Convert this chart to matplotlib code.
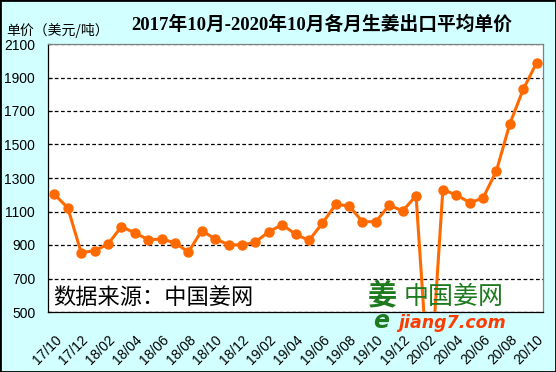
import matplotlib
matplotlib.use("Agg")
import matplotlib.pyplot as plt
from matplotlib.patches import Rectangle

months = ["17/10", "17/11", "17/12", "18/01", "18/02", "18/03", "18/04", "18/05", "18/06",
          "18/07", "18/08", "18/09", "18/10", "18/11", "18/12", "19/01", "19/02", "19/03",
          "19/04", "19/05", "19/06", "19/07", "19/08", "19/09", "19/10", "19/11", "19/12",
          "20/01", "20/02", "20/03", "20/04", "20/05", "20/06", "20/07", "20/08", "20/09", "20/10"]
prices = [1202, 1122, 854, 866, 905, 1009, 973, 932, 935, 914, 858, 985, 937, 902, 900, 917,
          979, 1021, 965, 927, 1029, 1142, 1134, 1039, 1039, 1138, 1103, 1194, 0, 1229, 1200,
          1153, 1180, 1343, 1623, 1829, 1988]
yticks = [500, 700, 900, 1100, 1300, 1500, 1700, 1900, 2100]

CJK = ['Noto Sans CJK SC', 'DejaVu Sans']
TITLE_FONT = ['Liberation Serif', 'Noto Sans CJK SC']
NUM_FONT = ['Liberation Sans', 'DejaVu Sans']

W, H = 556, 372
fig = plt.figure(figsize=(W / 100, H / 100), dpi=100, facecolor='#D2FFFF')
ax = fig.add_axes([47.7 / W, 1 - 312 / H, (543.3 - 47.7) / W, (312 - 44) / H])
ax.set_facecolor('white')

x = list(range(len(months)))
ax.plot(x, prices, color='#FF6A00', lw=2.2, marker='o', ms=6.5, mec='#FF6A00', mfc='#FF6A00', zorder=3)

ax.set_xlim(-0.5, len(months) - 0.5)
ax.set_ylim(500, 2100)
ax.set_yticks(yticks)
ax.set_yticklabels([str(v) for v in yticks], fontfamily=NUM_FONT, fontsize=10)
ax.yaxis.grid(True, color='black', ls=(0, (3, 2)), lw=0.9)
ax.set_axisbelow(True)
ax.tick_params(axis='y', direction='in', length=3, width=0.8, pad=9)

ax.set_xticks(x[::2])
ax.set_xticklabels(months[::2], rotation=45, ha='right', va='top', rotation_mode='anchor',
                   fontfamily=NUM_FONT, fontsize=10)
ax.tick_params(axis='x', length=0, pad=15)

for s in ['top', 'right']:
    ax.spines[s].set_color('#808080')
for s in ['left', 'bottom']:
    ax.spines[s].set_color('black')
for s in ax.spines.values():
    s.set_linewidth(0.9)

# title and y-label
fig.text(322 / W, 1 - 25 / H, "2017年10月-2020年10月各月生姜出口平均单价", ha='center', va='center',
         fontfamily=TITLE_FONT, fontweight='bold', fontsize=13.5)
fig.text(6 / W, 1 - 31 / H, "单价（美元/吨）", ha='left', va='center', fontfamily=CJK, fontsize=10)

# source watermark
fig.text(53 / W, 1 - 297 / H, "数据来源：中国姜网", ha='left', va='center', fontfamily=CJK,
         fontsize=16, color='black', zorder=5)

# logo (as text)
fig.text(382 / W, 1 - 295 / H, "姜", ha='center', va='center', fontfamily=CJK, fontsize=21,
         fontweight='bold', color='#1E7A1E', zorder=5)
fig.text(381 / W, 1 - 321 / H, "e", ha='center', va='center', fontfamily=['DejaVu Sans'], fontsize=17,
         fontweight='bold', style='italic', color='#1E7A1E', zorder=6)
fig.text(404 / W, 1 - 297 / H, "中国姜网", ha='left', va='center', fontfamily=CJK, fontsize=18,
         color='#1E7A1E', zorder=5)
fig.text(398 / W, 1 - 323 / H, "jiang7.com", ha='left', va='center', fontfamily=['DejaVu Sans'],
         fontsize=12.5, fontweight='bold', style='italic', color='#FF3C00', zorder=5)

fig.patches.append(Rectangle((0, 0), 1, 1, transform=fig.transFigure, fill=False,
                             edgecolor='black', lw=2, zorder=10))

fig.savefig("out.png", dpi=100, facecolor=fig.get_facecolor())
